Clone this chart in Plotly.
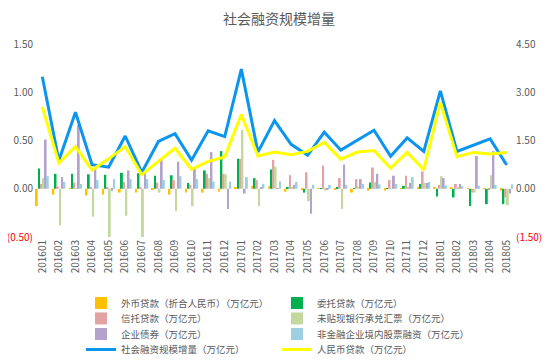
import plotly.graph_objects as go

months = ["201601","201602","201603","201604","201605","201606","201607","201608","201609","201610","201611","201612",
          "201701","201702","201703","201704","201705","201706","201707","201708","201709","201710","201711","201712",
          "201801","201802","201803","201804","201805"]

fx_loans = [-0.18,-0.06,0.003,-0.07,-0.06,-0.04,-0.04,-0.01,-0.06,-0.04,-0.04,-0.03,
            0.01,0.03,0.025,-0.03,-0.01,0.005,-0.01,-0.04,-0.02,-0.02,0.005,0.01,
            0.015,0.01,0.005,0.005,-0.02]
entrusted = [0.21,0.155,0.155,0.15,0.145,0.165,0.16,0.135,0.14,0.06,0.19,0.39,
             0.31,0.11,0.20,0.01,-0.04,0.005,0.01,0.005,0.065,0.005,0.03,0.05,
             -0.08,-0.09,-0.18,-0.16,-0.16]
trust = [0.05,0.025,0.065,0.02,0.01,0.07,0.01,0.065,0.09,0.04,0.155,0.155,
         0.31,0.09,0.30,0.14,0.17,0.24,0.11,0.10,0.22,0.09,0.135,0.18,
         0.04,0.05,-0.04,-0.01,-0.09]
undiscounted = [0.11,-0.38,0.005,-0.29,-0.50,-0.28,-0.53,-0.04,-0.23,-0.18,0.11,0.15,
                0.61,-0.18,0.23,0.02,-0.13,-0.02,-0.21,0.025,0.07,0.003,0.02,0.06,
                0.13,0.01,-0.04,0.14,-0.17]
bonds = [0.51,0.12,0.66,0.21,-0.02,0.19,0.16,0.30,0.28,0.21,0.38,-0.21,
         -0.05,0.01,0.005,0.04,-0.26,-0.01,0.25,0.10,0.155,0.135,0.06,0.06,
         0.11,0.05,0.34,0.39,-0.05]
equity = [0.13,0.07,0.05,0.09,0.10,0.10,0.10,0.09,0.13,0.10,0.075,0.075,
          0.12,0.05,0.075,0.07,0.04,0.04,0.04,0.05,0.045,0.05,0.12,0.07,
          0.035,0.025,0.03,0.04,0.045]
social = [3.48,0.88,2.38,0.75,0.67,1.64,0.51,1.47,1.71,0.89,1.80,1.62,
          3.72,1.14,2.12,1.38,1.04,1.76,1.20,1.50,1.82,1.01,1.58,1.16,
          3.04,1.16,1.35,1.55,0.74]
rmb = [2.55,0.80,1.31,0.58,0.93,1.31,0.44,0.86,1.26,0.60,0.85,0.99,
       2.31,1.02,1.14,1.06,1.16,1.44,0.92,1.14,1.19,0.64,1.13,0.59,
       2.69,1.00,1.13,1.08,1.13]

left_ticks = [-0.5, 0, 0.5, 1.0, 1.5]
left_text = ["<span style='color:#FF0000'>(0.50)</span>", "0.00", "0.50", "1.00", "1.50"]
right_ticks = [-1.5, 0, 1.5, 3.0, 4.5]
right_text = ["<span style='color:#FF0000'>(1.50)</span>", "0.00", "1.50", "3.00", "4.50"]

bar_series = [
    ("外币贷款（折合人民币）（万亿元）", fx_loans, "#FFC000", "legend"),
    ("委托贷款（万亿元）", entrusted, "#00B050", "legend"),
    ("信托贷款（万亿元）", trust, "#E3A3A3", "legend2"),
    ("未贴现银行承兑汇票（万亿元）", undiscounted, "#C4D89E", "legend2"),
    ("企业债券（万亿元）", bonds, "#B3A3CC", "legend3"),
    ("非金融企业境内股票融资（万亿元）", equity, "#9CCFE0", "legend3"),
]

fig = go.Figure()
for name, vals, color, lg in bar_series:
    fig.add_trace(go.Bar(x=months, y=vals, name=name, marker=dict(color=color, line=dict(width=0)),
                         yaxis="y", legend=lg))

fig.add_trace(go.Scatter(x=months, y=social, name="社会融资规模增量（万亿元）", mode="lines",
                         line=dict(color="#0C95EE", width=3), yaxis="y2", legend="legend4"))
fig.add_trace(go.Scatter(x=months, y=rmb, name="人民币贷款（万亿元）", mode="lines",
                         line=dict(color="#FFFF00", width=3), yaxis="y2", legend="legend4"))

tick_font = dict(family="Noto Sans CJK SC, sans-serif", size=10, color="#595959")
leg_font = dict(family="Noto Sans CJK SC, sans-serif", size=9.5, color="#595959")

def leg(y):
    return dict(orientation="h", x=0.0977, xanchor="left", y=y, yanchor="middle",
                entrywidth=151, entrywidthmode="pixels", font=leg_font,
                bgcolor="rgba(0,0,0,0)", itemwidth=30, traceorder="normal")

# The page body has an 8px margin, so the figure is sized to fill the rest of the window.
fig.update_layout(
    width=542, height=355,
    margin=dict(l=26, r=35, t=36, b=126, autoexpand=False),
    paper_bgcolor="white", plot_bgcolor="white",
    title=dict(text="社会融资规模增量", x=0.5, xanchor="center", y=0.968, yanchor="middle",
               font=dict(family="Noto Sans CJK SC, sans-serif", size=14, color="#595959")),
    barmode="group", bargap=0.2, bargroupgap=0.15,
    xaxis=dict(type="category", tickangle=-90, tickfont=tick_font, showgrid=False,
               showline=False, zeroline=False, ticks="", automargin=False),
    yaxis=dict(range=[-0.5, 1.5], tickvals=left_ticks, ticktext=left_text, tickfont=tick_font,
               showgrid=False, zeroline=False, showline=False, automargin=False),
    yaxis2=dict(range=[-1.5, 4.5], tickvals=right_ticks, ticktext=right_text, tickfont=tick_font,
                overlaying="y", side="right", showgrid=False, zeroline=False, showline=False,
                automargin=False),
    showlegend=True,
    legend=leg(-0.342),
    legend2=leg(-0.422),
    legend3=leg(-0.503),
    legend4=leg(-0.583),
)

fig.write_html("out.html")
